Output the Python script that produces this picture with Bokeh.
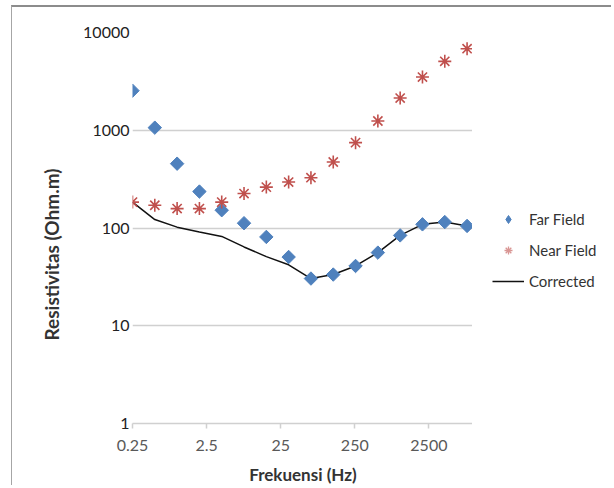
import math
from bokeh.plotting import figure
from bokeh.layouts import row
from bokeh.models import (FixedTicker, CustomJSTickFormatter, Legend, LegendItem, Title)
from bokeh.embed import file_html
from bokeh.resources import INLINE

freq = [0.25, 0.5, 1, 2, 4, 8, 16, 32, 64, 128, 256, 512, 1024, 2048, 4096, 8192]
far_field = [2540, 1063, 455, 236, 152, 112, 81, 50.5, 30.4, 33.4, 40.9, 56, 84, 109, 115, 105]
near_field = [184, 171, 158, 158, 184, 225, 262, 295, 327, 473, 747, 1243, 2134, 3500, 5070, 6830]
corrected = [184, 122, 102, 91, 82, 64, 51, 42, 30.4, 33.4, 40.9, 56, 84, 109, 115, 105]
x_ticks = [0.25, 2.5, 25, 250, 2500]
y_ticks = [1, 10, 100, 1000, 10000]

FONT = "Lato"
BLUE = "#4f81bd"
RED = "#c0504d"
BORDER = {"border-top": "2px solid #8c8c8c"}

p = figure(width=461, height=480, x_axis_type="log", y_axis_type="log",
           x_range=(0.25, 10000), y_range=(1, 10000),
           output_backend="svg", toolbar_location=None,
           min_border_left=120, min_border_right=0, min_border_top=25, min_border_bottom=64,
           margin=(5, 0, 0, 11),
           styles={"border-left": "1px solid #a6a6a6", **BORDER})
p.outline_line_color = None
p.background_fill_color = "white"
p.border_fill_color = "white"

fmt = CustomJSTickFormatter(code="return tick.toString();")

xa = p.xaxis[0]
xa.ticker = FixedTicker(ticks=x_ticks, minor_ticks=[])
xa.formatter = fmt
xa.axis_line_color = "#d0d0d0"
xa.axis_line_width = 1.5
xa.major_tick_line_color = "#d0d0d0"
xa.major_tick_line_width = 1.5
xa.major_tick_out = 5
xa.major_tick_in = 0
xa.minor_tick_line_color = None
xa.major_label_text_font = FONT
xa.major_label_text_font_size = "16px"
xa.major_label_text_color = "#595959"
xa.major_label_standoff = 11
xa.axis_label = "Frekuensi (Hz)"
xa.axis_label_text_font = FONT
xa.axis_label_text_font_style = "bold"
xa.axis_label_text_font_size = "17px"
xa.axis_label_text_color = "#333333"
xa.axis_label_standoff = 10

ya = p.yaxis[0]
ya.ticker = FixedTicker(ticks=y_ticks, minor_ticks=[])
ya.formatter = fmt
ya.axis_line_color = None
ya.major_tick_line_color = None
ya.major_tick_out = 0
ya.major_tick_in = 0
ya.minor_tick_line_color = None
ya.major_label_text_font = FONT
ya.major_label_text_font_size = "16px"
ya.major_label_text_color = "#222222"
ya.major_label_standoff = 3

p.xgrid.visible = False
p.ygrid.ticker = FixedTicker(ticks=y_ticks, minor_ticks=[])
p.ygrid.grid_line_color = "#d0d0d0"
p.ygrid.grid_line_width = 1.5

p.line(freq, corrected, line_color="#111111", line_width=1.5)
p.scatter(freq, far_field, marker="square", angle=math.pi / 4, size=9.5,
          fill_color=BLUE, line_color=BLUE)
p.scatter(freq, near_field, marker="asterisk", size=13, line_color=RED, line_width=1.6)

ytitle = Title(text="Resistivitas (Ohm.m)", align="left", offset=83,
               text_font=FONT, text_font_style="bold", text_font_size="19px",
               text_color="#333333", standoff=36)
p.add_layout(ytitle, "left")

# legend panel: same series, kept outside its visible ranges so only the legend shows
pl = figure(width=139, height=480, x_range=(-2, -1), y_range=(-2, -1),
            output_backend="svg", toolbar_location=None,
            x_axis_location=None, y_axis_location=None,
            min_border_left=0, min_border_right=0, min_border_top=0, min_border_bottom=0,
            margin=(5, 0, 0, 0), styles=BORDER)
pl.outline_line_color = None
pl.grid.visible = False
pl.border_fill_color = "white"
l_far = pl.scatter(freq, far_field, marker="diamond", size=14, fill_color=BLUE, line_color=BLUE)
l_near = pl.scatter(freq, near_field, marker="asterisk", size=12, line_color=RED,
                    line_alpha=0.6, line_width=1.3)
l_corr = pl.line(freq, corrected, line_color="#111111", line_width=1.5)

legend = Legend(items=[LegendItem(label="Far Field", renderers=[l_far]),
                       LegendItem(label="Near Field", renderers=[l_near]),
                       LegendItem(label="Corrected", renderers=[l_corr])],
                location=(20, 132), glyph_width=32, glyph_height=20, label_height=20,
                spacing=11, padding=0, margin=0, label_standoff=5,
                label_text_font=FONT, label_text_font_size="15px", label_text_color="#333333",
                border_line_color=None, background_fill_alpha=0)
pl.add_layout(legend, "center")

layout = row(p, pl, spacing=0)
open("out.html", "w").write(file_html(layout, INLINE))
